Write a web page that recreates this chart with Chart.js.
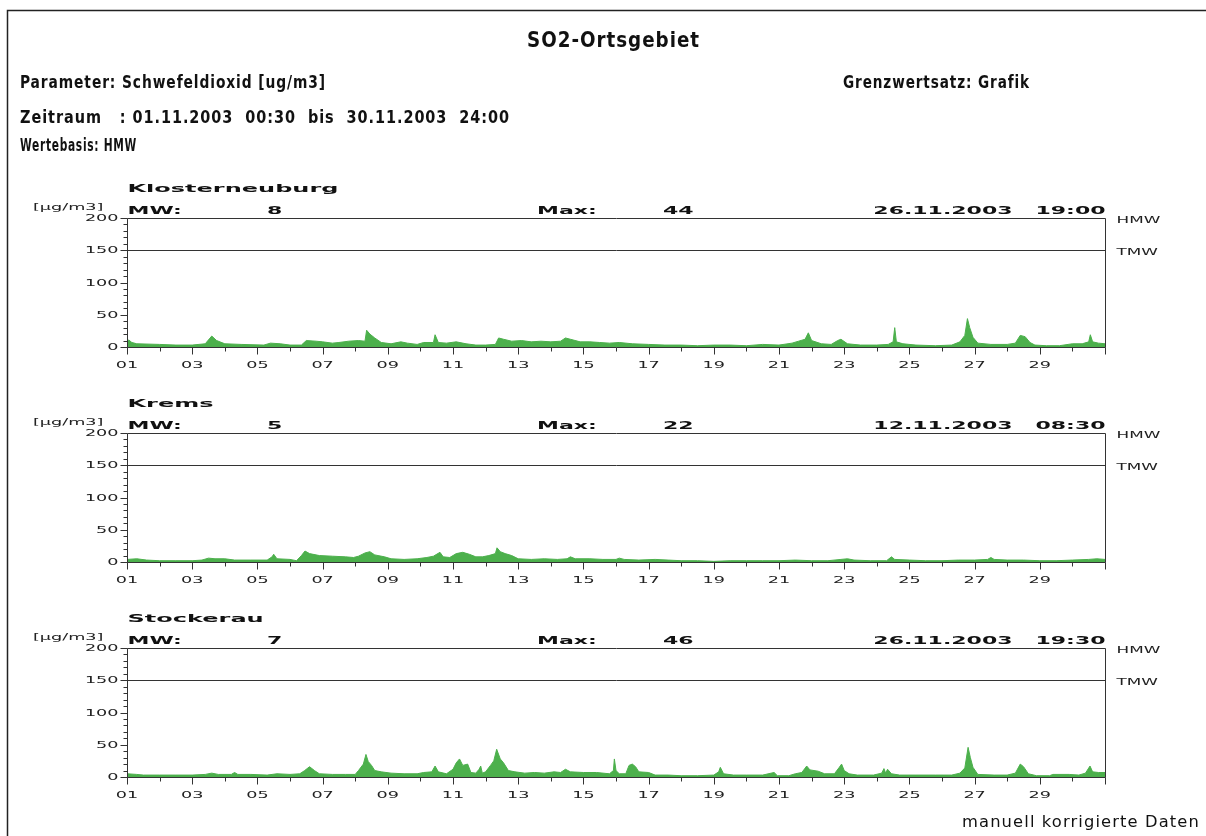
<!DOCTYPE html>
<html>
<head>
<meta charset="utf-8">
<script src="https://cdn.jsdelivr.net/npm/chart.js@4.4.1/dist/chart.umd.min.js"></script>
<style>
  body { margin: 0; background: #fff; width: 1206px; height: 836px; overflow: hidden; position: relative; }
  canvas { position: absolute; left: 0; }
</style>
</head>
<body>
<canvas id="page" width="1206" height="836" style="top:0"></canvas>
<canvas id="panel0" width="1206" height="215" style="top:170px"></canvas>
<canvas id="panel1" width="1206" height="215" style="top:385px"></canvas>
<canvas id="panel2" width="1206" height="215" style="top:600px"></canvas>
<script>
// Stationen und Kennwerte
const stations = ["Klosterneuburg", "Krems", "Stockerau"];
const meanValues = ["8", "5", "7"];
const maxValues = ["44", "22", "46"];
const maxTimes = ["26.11.2003   19:00", "12.11.2003   08:30", "26.11.2003   19:30"];

// Achsen
const yTickLabels = [0, 50, 100, 150, 200];
const xTickDays = [0, 2, 4, 6, 8, 10, 12, 14, 16, 18, 20, 22, 24, 26, 28];
const xTickLabels = ["01", "03", "05", "07", "09", "11", "13", "15", "17", "19", "21", "23", "25", "27", "29"];

// HMW-Verlauf: [Tag seit 01.11. 00:00, ug/m3]
const klosterneuburg = [[0,6],[0.05,11],[0.15,7],[0.3,5],[1.0,4],[1.5,3],[2.0,3],[2.4,5],[2.6,17],[2.75,10],[3.0,5],[3.5,4],[4.2,3],[4.4,6],[4.7,5],[5.0,3],[5.35,3],[5.5,10],[5.8,9],[6.0,8],[6.3,6],[6.5,7],[6.8,9],[7.1,10],[7.3,9],[7.35,26],[7.45,20],[7.6,14],[7.8,7],[8.1,5],[8.4,8],[8.6,6],[8.9,4],[9.1,7],[9.4,7],[9.45,19],[9.55,7],[9.8,6],[10.1,8],[10.4,5],[10.7,3],[11.0,3],[11.3,4],[11.4,14],[11.55,12],[11.8,9],[12.1,10],[12.4,8],[12.7,9],[13.0,8],[13.3,9],[13.45,14],[13.6,12],[13.9,8],[14.2,8],[14.5,7],[14.8,6],[15.1,7],[15.5,5],[16.0,4],[16.5,3],[17.0,3],[17.5,2],[18.0,3],[18.5,3],[19.0,2],[19.5,4],[20.0,3],[20.4,6],[20.6,9],[20.8,12],[20.9,22],[21.0,10],[21.3,5],[21.6,4],[21.8,10],[21.9,12],[22.1,5],[22.5,3],[23.0,3],[23.35,4],[23.5,8],[23.55,30],[23.6,8],[23.8,5],[24.2,3],[24.8,2],[25.3,3],[25.55,8],[25.7,18],[25.78,44],[25.85,30],[25.95,15],[26.1,6],[26.5,4],[27.0,4],[27.25,6],[27.4,18],[27.55,16],[27.7,7],[27.85,3],[28.2,2],[28.6,2],[29.0,5],[29.3,5],[29.5,8],[29.55,19],[29.62,8],[29.8,6],[30,5]];

const krems = [[0,4],[0.3,5],[0.6,3],[1.0,2],[1.5,2],[2.0,2],[2.3,3],[2.5,6],[2.7,5],[3.0,5],[3.3,3],[3.8,3],[4.3,3],[4.45,8],[4.5,12],[4.6,5],[5.0,4],[5.2,2],[5.35,10],[5.46,17],[5.6,13],[5.9,10],[6.3,9],[6.7,8],[6.95,7],[7.1,9],[7.3,14],[7.45,16],[7.6,11],[7.9,8],[8.1,5],[8.5,4],[8.9,5],[9.2,7],[9.4,9],[9.6,15],[9.7,8],[9.9,7],[10.1,13],[10.3,15],[10.5,12],[10.7,8],[10.9,8],[11.1,10],[11.3,13],[11.35,22],[11.45,16],[11.6,13],[11.8,10],[12.0,5],[12.4,4],[12.8,5],[13.2,4],[13.5,5],[13.6,8],[13.75,5],[14.2,5],[14.6,4],[15.0,4],[15.1,6],[15.25,4],[15.7,3],[16.2,4],[16.6,3],[17.0,2],[17.5,2],[18.0,1],[18.5,2],[19.0,2],[19.5,2],[20.0,2],[20.5,3],[21.0,2],[21.5,2],[21.9,4],[22.1,5],[22.3,3],[22.8,2],[23.3,2],[23.45,8],[23.55,4],[24.0,3],[24.5,2],[25.0,2],[25.5,3],[26.0,3],[26.4,4],[26.5,7],[26.6,4],[27.0,3],[27.5,3],[28.0,2],[28.5,2],[29.0,3],[29.5,4],[29.75,5],[30,4]];

const stockerau = [[0,5],[0.3,4],[0.5,3],[1.0,3],[1.5,3],[2.0,3],[2.4,4],[2.6,6],[2.8,4],[3.2,4],[3.3,7],[3.4,4],[3.8,4],[4.3,3],[4.6,5],[5.0,4],[5.3,5],[5.45,10],[5.6,16],[5.75,10],[5.9,5],[6.3,4],[6.7,4],[7.0,4],[7.1,10],[7.25,20],[7.33,35],[7.4,24],[7.5,18],[7.6,10],[7.8,8],[8.1,6],[8.5,5],[8.9,5],[9.1,7],[9.35,8],[9.45,17],[9.55,8],[9.8,5],[10.0,12],[10.1,22],[10.2,28],[10.3,18],[10.45,20],[10.55,7],[10.7,6],[10.8,12],[10.85,17],[10.9,6],[11.0,8],[11.15,18],[11.25,25],[11.34,43],[11.45,28],[11.55,22],[11.7,10],[11.9,8],[12.2,6],[12.5,7],[12.8,6],[13.1,8],[13.3,7],[13.45,12],[13.6,8],[14.0,7],[14.4,7],[14.8,5],[14.92,10],[14.95,28],[15.0,10],[15.1,5],[15.3,5],[15.4,18],[15.5,20],[15.6,16],[15.7,8],[16.0,7],[16.2,3],[16.6,3],[17.0,2],[17.5,2],[18.0,3],[18.15,8],[18.2,15],[18.3,5],[18.6,3],[19.0,3],[19.5,3],[19.85,7],[19.95,2],[20.3,2],[20.5,5],[20.7,7],[20.85,17],[20.95,11],[21.2,9],[21.4,5],[21.7,5],[21.85,15],[21.92,20],[22.0,10],[22.15,5],[22.4,3],[22.9,3],[23.15,6],[23.22,13],[23.27,6],[23.33,12],[23.45,5],[23.7,3],[24.2,3],[24.8,3],[25.3,3],[25.55,6],[25.7,14],[25.8,46],[25.87,30],[25.95,15],[26.1,4],[26.6,3],[27.0,3],[27.25,6],[27.4,20],[27.5,16],[27.65,5],[27.9,2],[28.3,2],[28.4,4],[28.9,4],[29.2,3],[29.4,6],[29.54,17],[29.62,8],[29.8,7],[30,7]];

const series = [klosterneuburg, krems, stockerau];

const GREEN = "#4cb04c";
const LINE = "#333";
const HEAD_FONT = '"DejaVu Sans Condensed", "Liberation Sans Narrow", sans-serif';

// Text horizontal gestreckt zeichnen (Plotterschrift ist sehr breit)
function wideText(ctx, txt, x, y, font, sx, align, spacing) {
    ctx.save();
    ctx.font = font;
    ctx.letterSpacing = (spacing || 0) + "px";
    ctx.textAlign = "left";
    ctx.textBaseline = "alphabetic";
    const w = ctx.measureText(txt).width * sx;
    let x0 = x;
    if (align === "center") x0 = x - w / 2;
    if (align === "right") x0 = x - w;
    ctx.translate(x0, y);
    ctx.scale(sx, 1);
    ctx.fillText(txt, 0, 0);
    ctx.restore();
}

// Text auf feste Breite bringen (schmale Schrift mit Sperrung)
function fitText(ctx, txt, x, y, font, width, spacing) {
    ctx.save();
    ctx.font = font;
    ctx.letterSpacing = spacing + "px";
    const sx = width / ctx.measureText(txt).width;
    ctx.restore();
    wideText(ctx, txt, x, y, font, sx, "left", spacing);
}

// Kopf- und Fußzeile
const page = document.getElementById("page").getContext("2d");
page.fillStyle = "#fff";
page.fillRect(0, 0, 1206, 836);
page.strokeStyle = "#222";
page.lineWidth = 1.5;
page.beginPath();
page.moveTo(7.5, 836);
page.lineTo(7.5, 10.5);
page.lineTo(1206, 10.5);
page.stroke();
page.fillStyle = "#111";
fitText(page, "SO2-Ortsgebiet", 527, 47, "bold 21px " + HEAD_FONT, 173, 1);
fitText(page, "Parameter: Schwefeldioxid [ug/m3]", 20, 88, "bold 17px " + HEAD_FONT, 306, 1);
fitText(page, "Zeitraum   : 01.11.2003  00:30  bis  30.11.2003  24:00", 20, 123, "bold 17px " + HEAD_FONT, 490, 1);
fitText(page, "Wertebasis: HMW", 20, 151, "bold 17px " + HEAD_FONT, 117, 1);
fitText(page, "Grenzwertsatz: Grafik", 843, 88, "bold 17px " + HEAD_FONT, 187, 1);
fitText(page, "manuell korrigierte Daten", 962, 827, "16px " + HEAD_FONT, 238, 1);

const BOLD = 'bold 10px "DejaVu Sans"';
const THIN = '8px "DejaVu Sans"';

// Achsen, Ticks, Grenzwertlinie und Beschriftung je Panel
const panelPlugin = {
    id: "panelFrame",
    afterDatasetsDraw(chart, args, opts) {
        const ctx = chart.ctx;
        const xs = chart.scales.x;
        const ys = chart.scales.y;
        const left = Math.round(xs.left) + 0.5;
        const right = Math.round(xs.right) + 0.5;
        const y0 = Math.round(ys.getPixelForValue(0)) + 0.5;
        const yTop = Math.round(ys.getPixelForValue(200)) + 0.5;
        const yTmw = Math.round(ys.getPixelForValue(150)) + 0.5;

        ctx.save();
        ctx.strokeStyle = LINE;
        ctx.lineWidth = 1;
        ctx.beginPath();
        ctx.moveTo(left, yTop); ctx.lineTo(right, yTop);
        ctx.moveTo(left, yTmw); ctx.lineTo(right, yTmw);
        ctx.moveTo(left, yTop); ctx.lineTo(left, y0);
        ctx.moveTo(right, yTop); ctx.lineTo(right, y0);
        ctx.moveTo(left, y0); ctx.lineTo(right, y0);
        // y-Ticks alle 10
        for (let v = 0; v <= 200; v += 10) {
            const y = Math.round(ys.getPixelForValue(v)) + 0.5;
            const len = v % 50 === 0 ? 7 : 4;
            ctx.moveTo(left - len, y); ctx.lineTo(left, y);
        }
        // x-Ticks je Tag
        for (let d = 0; d <= 30; d++) {
            const x = Math.round(xs.getPixelForValue(d)) + 0.5;
            const len = d % 2 === 0 ? 7 : 4;
            ctx.moveTo(x, y0); ctx.lineTo(x, y0 + len);
        }
        ctx.stroke();

        ctx.fillStyle = "#222";
        yTickLabels.forEach((v) => {
            wideText(ctx, String(v), left - 9, ys.getPixelForValue(v) + 3, THIN, 2.2, "right");
        });
        xTickDays.forEach((d, i) => {
            wideText(ctx, xTickLabels[i], xs.getPixelForValue(d), y0 + 20, THIN, 2.2, "center");
        });
        wideText(ctx, "[µg/m3]", 33, yTop - 9, THIN, 2.2, "left");
        wideText(ctx, "HMW", right + 11, yTop + 4, THIN, 2.1, "left");
        wideText(ctx, "TMW", right + 11, yTmw + 4, THIN, 2.1, "left");

        ctx.fillStyle = "#111";
        wideText(ctx, opts.station, left, yTop - 27, BOLD, 2.4, "left");
        wideText(ctx, "MW:", left, yTop - 5, BOLD, 2.2, "left");
        wideText(ctx, opts.mean, 267, yTop - 5, BOLD, 2.2, "left");
        wideText(ctx, "Max:", 537, yTop - 5, BOLD, 2.2, "left");
        wideText(ctx, opts.max, 663, yTop - 5, BOLD, 2.2, "left");
        wideText(ctx, opts.time, right, yTop - 5, BOLD, 2.2, "right");
        ctx.restore();
    },
};

series.forEach((pts, i) => {
    new Chart(document.getElementById("panel" + i), {
        type: "line",
        data: {
            datasets: [{
                data: pts.map((p) => ({ x: p[0], y: p[1] })),
                fill: "origin",
                backgroundColor: GREEN,
                borderColor: GREEN,
                borderWidth: 1,
                pointRadius: 0,
                tension: 0,
            }],
        },
        options: {
            responsive: false,
            animation: false,
            devicePixelRatio: 1,
            layout: { padding: { left: 127, right: 101, top: 48, bottom: 38 } },
            scales: {
                x: { type: "linear", min: 0, max: 30, display: false },
                y: { min: 0, max: 200, display: false },
            },
            plugins: {
                legend: { display: false },
                tooltip: { enabled: false },
                panelFrame: { station: stations[i], mean: meanValues[i], max: maxValues[i], time: maxTimes[i] },
            },
        },
        plugins: [panelPlugin],
    });
});
</script>
</body>
</html>
